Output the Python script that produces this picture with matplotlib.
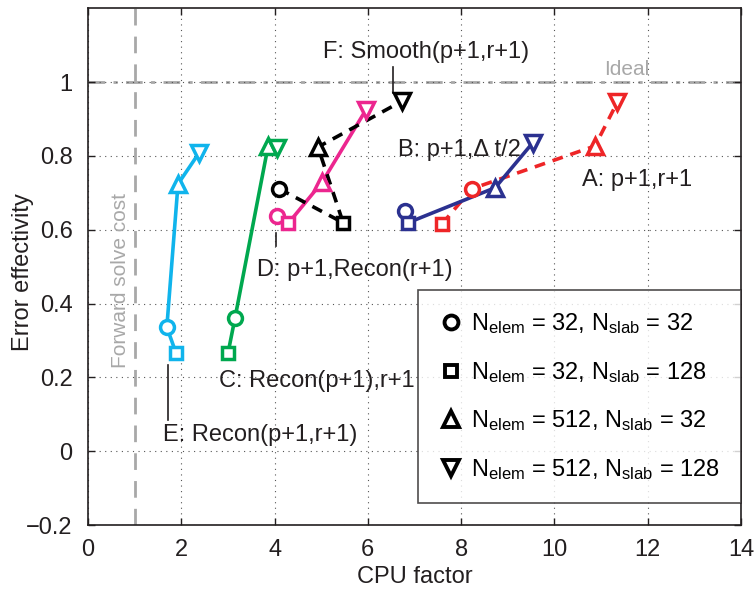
import matplotlib
matplotlib.use("Agg")
import matplotlib.pyplot as plt
from matplotlib.lines import Line2D

plt.rcParams['font.family'] = ['Liberation Sans', 'DejaVu Sans']
plt.rcParams['mathtext.fontset'] = 'custom'
plt.rcParams['mathtext.rm'] = 'Liberation Sans'
plt.rcParams['mathtext.it'] = 'Liberation Sans'

# marker order within each series: circle, square, triangle-up, triangle-down
series_names = ["A", "B", "C", "D", "E", "F"]
A_x = [8.23, 7.59, 10.87, 11.35]
A_y = [0.711, 0.616, 0.827, 0.946]
B_x = [6.80, 6.86, 8.73, 9.53]
B_y = [0.650, 0.619, 0.714, 0.835]
C_x = [3.15, 3.00, 3.86, 4.06]
C_y = [0.360, 0.265, 0.826, 0.822]
D_x = [4.05, 4.29, 5.02, 5.96]
D_y = [0.638, 0.617, 0.729, 0.925]
E_x = [1.69, 1.89, 1.93, 2.38]
E_y = [0.336, 0.265, 0.724, 0.808]
F_x = [4.10, 5.47, 4.93, 6.74]
F_y = [0.711, 0.619, 0.824, 0.949]
# line drawing order (indices into the marker arrays)
A_order = [1, 0, 2, 3]
B_order = [0, 1, 2, 3]
C_order = [1, 0, 2, 3]
D_order = [0, 1, 2, 3]
E_order = [1, 0, 2, 3]
F_order = [0, 1, 2, 3]

legend_labels = [r"$\mathrm{N_{elem}}$ = 32, $\mathrm{N_{slab}}$ = 32",
                 r"$\mathrm{N_{elem}}$ = 32, $\mathrm{N_{slab}}$ = 128",
                 r"$\mathrm{N_{elem}}$ = 512, $\mathrm{N_{slab}}$ = 32",
                 r"$\mathrm{N_{elem}}$ = 512, $\mathrm{N_{slab}}$ = 128"]
x_ticks = [0, 2, 4, 6, 8, 10, 12, 14]
y_ticks = [-0.2, 0, 0.2, 0.4, 0.6, 0.8, 1.0]
y_tick_labels = ["\u22120.2", "0", "0.2", "0.4", "0.6", "0.8", "1"]

series = {
    "A": (A_x, A_y, A_order, "#EE2527", "--"),
    "B": (B_x, B_y, B_order, "#2B3190", "-"),
    "C": (C_x, C_y, C_order, "#00A84F", "-"),
    "D": (D_x, D_y, D_order, "#EC268F", "-"),
    "E": (E_x, E_y, E_order, "#10B4EC", "-"),
    "F": (F_x, F_y, F_order, "#000000", "--"),
}
markers = ["o", "s", "^", "v"]
msizes = [10, 8.5, 12, 12]

TXT = "#231F20"
fig = plt.figure(figsize=(7.56, 5.90), dpi=100)
ax = fig.add_axes([0.1164, 0.110, 0.8638, 0.876])

# reference lines
ax.axhline(1.0, color="#A8A8A8", lw=2, ls=(0, (6, 3, 1.5, 3)), zorder=1)
ax.axvline(1.0, color="#A8A8A8", lw=2, ls=(0, (6, 4)), zorder=1)

for name in series_names:
    xs, ys, order, col, ls = series[name]
    lx = [xs[i] for i in order]
    ly = [ys[i] for i in order]
    ax.plot(lx, ly, color=col, lw=2.6, ls=ls, dashes=(3, 2.2) if ls == "--" else (None, None), zorder=3)
    for i, m in enumerate(markers):
        ax.plot(xs[i], ys[i], ls="none", marker=m, ms=msizes[i], mfc="white",
                mec=col, mew=2.5, zorder=4)

# annotations
fs = 17
kw = dict(fontsize=fs, ha="left", va="baseline", color=TXT, zorder=7)
ax.text(5.04, 1.065, "F: Smooth(p+1,r+1)", **kw)
ax.plot([6.54, 6.54], [1.04, 0.97], color=TXT, lw=1.2, zorder=2)
ax.text(6.65, 0.800, "B: p+1,\u0394 t/2", **kw)
ax.text(10.59, 0.719, "A: p+1,r+1", **kw)
ax.text(3.62, 0.476, "D: p+1,Recon(r+1)", **kw)
ax.plot([4.03, 4.03], [0.592, 0.555], color=TXT, lw=1.2, zorder=2)
ax.text(2.81, 0.173, "C: Recon(p+1),r+1", **kw)
ax.text(1.61, 0.027, "E: Recon(p+1,r+1)", **kw)
ax.plot([1.72, 1.72], [0.235, 0.084], color=TXT, lw=1.2, zorder=2)
ax.text(11.07, 1.018, "Ideal", fontsize=15, ha="left", va="baseline", color="#A8A8A8")
ax.text(0.69, 0.462, "Forward solve cost", fontsize=15, ha="center", va="center",
        rotation=90, color="#A8A8A8")

ax.set_xlim(0, 14)
ax.set_ylim(-0.2, 1.2)
ax.set_xticks(x_ticks)
ax.set_yticks(y_ticks)
ax.set_yticklabels(y_tick_labels)
ax.tick_params(direction="in", top=True, right=True, labelsize=fs, length=5, width=1,
               colors=TXT)
ax.tick_params(axis="x", pad=10)
ax.tick_params(axis="y", pad=11)
ax.grid(True, ls=(0, (1, 4)), color="#555555", lw=0.8)
for s in ax.spines.values():
    s.set_color(TXT)
    s.set_linewidth(1.2)
ax.set_xlabel("CPU factor", fontsize=fs, color=TXT)
ax.set_ylabel("Error effectivity", fontsize=fs, color=TXT)
ax.xaxis.set_label_coords(0.5, -0.080)
ax.yaxis.set_label_coords(-0.082, 0.49)

handles = [Line2D([], [], ls="none", marker=m, ms=msizes[i], mfc="white", mec="black", mew=2.8)
           for i, m in enumerate(markers)]
leg = ax.legend(handles, legend_labels, loc="upper left", bbox_to_anchor=(0.5054, 0.4545),
                fontsize=fs, frameon=True, fancybox=False, edgecolor=TXT,
                labelspacing=1.0, handlelength=1.0, handletextpad=0.35, borderpad=0.9,
                borderaxespad=0)
leg.get_frame().set_linewidth(1.2)
leg.set_zorder(5)

fig.savefig("out.png", dpi=100)
